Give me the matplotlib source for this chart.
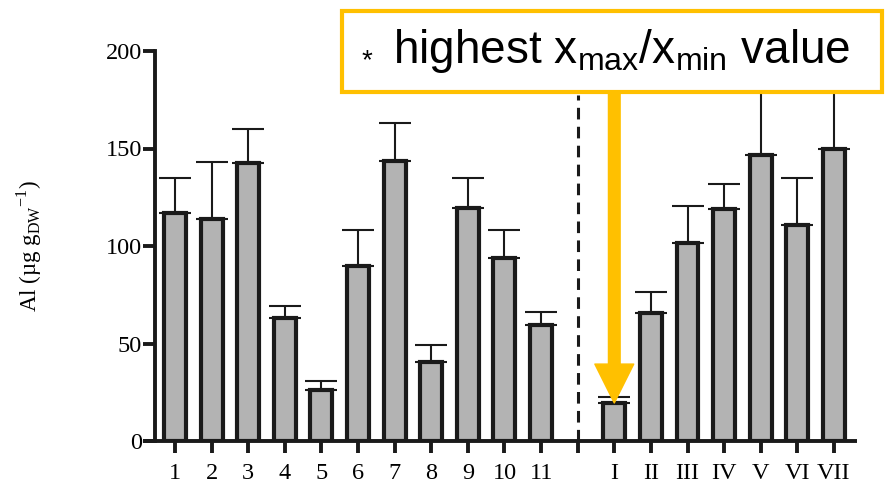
import matplotlib
matplotlib.use("Agg")
import matplotlib.pyplot as plt
from matplotlib.patches import Rectangle
from matplotlib.transforms import blended_transform_factory

# data
label_arab = ["1", "2", "3", "4", "5", "6", "7", "8", "9", "10", "11"]
mean_arab = [117, 114, 142.5, 63, 26, 90, 143.5, 40.5, 119.5, 94, 59.5]
top_arab = [135, 143, 160, 69, 31, 108, 163, 49, 135, 108, 66]

label_roman = ["I", "II", "III", "IV", "V", "VI", "VII"]
mean_roman = [19.5, 65.5, 101.5, 119, 146.5, 111, 150]
top_roman = [22.5, 76.5, 120.5, 132, 179, 135, 179.5]

y_ticks = [0, 50, 100, 150, 200]

# positions: arabic 1..11, separator at 12, roman from 13
pos_arab = list(range(1, len(label_arab) + 1))
sep_pos = len(label_arab) + 1
pos_roman = [sep_pos + 1 + i for i in range(len(label_roman))]

positions = pos_arab + pos_roman
means = mean_arab + mean_roman
tops = top_arab + top_roman
labels = label_arab + label_roman
errs = [t - m for t, m in zip(tops, means)]

serif = "Liberation Serif"
sans = "Liberation Sans"
yellow = "#FFC000"

fig = plt.figure(figsize=(8.87, 4.92), dpi=100)
ax = fig.add_axes([143 / 887, 1 - 441 / 492, (857 - 143) / 887, 390 / 492])

ax.errorbar(positions, means, yerr=[[0] * len(errs), errs], fmt="none",
            ecolor="#1a1a1a", elinewidth=1.5, capsize=11.5, capthick=1.5, zorder=1)
ax.bar(positions, means, width=0.6, color="#b3b3b3", edgecolor="#1a1a1a",
       linewidth=3, zorder=2)

ax.axvline(sep_pos, ymin=0, ymax=0.887, color="#1a1a1a", lw=2.2,
           dashes=(3.8, 2.4), zorder=1)

ax.set_xlim(0.126, 19.63)
ax.set_ylim(0, 200)
ax.spines["top"].set_visible(False)
ax.spines["right"].set_visible(False)
ax.spines["left"].set_position(("data", 0.454))
for s in ["left", "bottom"]:
    ax.spines[s].set_linewidth(2.8)
    ax.spines[s].set_color("#1a1a1a")
ax.spines["bottom"].set_capstyle("butt")

ax.set_yticks(y_ticks)
ax.set_yticklabels([str(v) for v in y_ticks], fontfamily=serif, fontsize=17.5)
ax.set_xticks(positions + [sep_pos])
ax.set_xticklabels(labels + [""], fontfamily=serif, fontsize=17.5)
ax.tick_params(axis="both", direction="out", length=8.5, width=2.8, color="#1a1a1a")
ax.tick_params(axis="y", pad=1)
ax.tick_params(axis="x", pad=7)

ax.set_ylabel(r"Al (µg g$_\mathregular{DW}$$^\mathregular{-1}$)", fontfamily=serif,
              fontsize=16.5, labelpad=44)

# highlighted annotation box
box = Rectangle((342 / 887, 1 - 92 / 492), (882 - 342) / 887, (92 - 11) / 492,
                transform=fig.transFigure, facecolor="white", edgecolor=yellow,
                linewidth=3, zorder=5)
fig.patches.append(box)
fig.text(362 / 887, 1 - 61 / 492, "*", fontfamily=sans, fontsize=20,
         va="center", ha="left", zorder=6)
fig.text(393 / 887, 1 - 51 / 492,
         r"highest x$_\mathregular{max}$/x$_\mathregular{min}$ value",
         fontfamily=sans, fontsize=33, va="center", ha="left", zorder=6)

trans = blended_transform_factory(ax.transData, fig.transFigure)
ax.annotate("", xy=(pos_roman[0], mean_roman[0]), xycoords="data",
            xytext=(pos_roman[0], 1 - 92 / 492), textcoords=trans,
            arrowprops=dict(arrowstyle="simple,head_length=1.0,head_width=1.0,tail_width=0.3",
                            mutation_scale=28, color=yellow, shrinkA=0, shrinkB=0),
            zorder=6, annotation_clip=False)

fig.savefig("out.png", dpi=100)
